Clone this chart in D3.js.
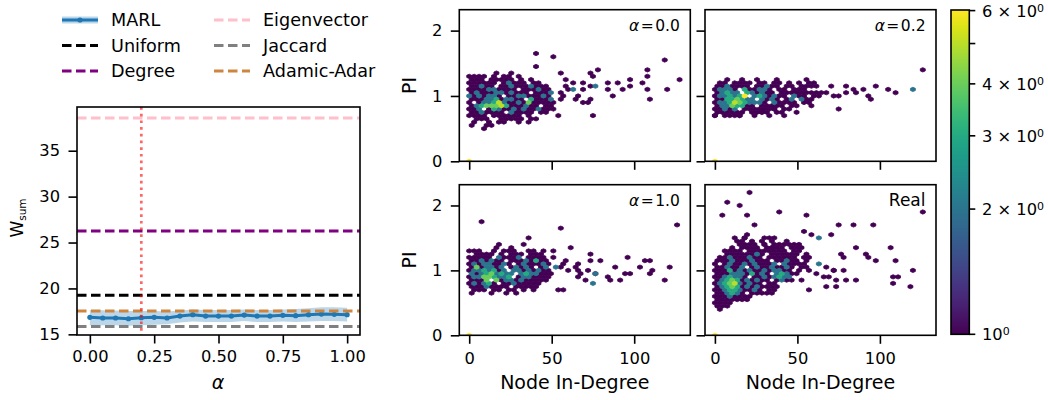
<!DOCTYPE html>
<html>
<head>
<meta charset="utf-8">
<script src="https://cdn.jsdelivr.net/npm/d3@7"></script>
<style>
  body { margin: 0; background: #fff; }
  text { font-family: "DejaVu Sans", sans-serif; }
</style>
</head>
<body>
<svg id="chart" width="1048" height="400"></svg>
<script>
// ---- left plot data ----
const alphaValues = [0, 0.05, 0.1, 0.15, 0.2, 0.25, 0.3, 0.35, 0.4, 0.45, 0.5, 0.55, 0.6, 0.65, 0.7, 0.75, 0.8, 0.85, 0.9, 0.95, 1.0];
const marlMean = [16.85, 16.78, 16.78, 16.70, 16.81, 16.85, 16.78, 16.99, 17.14, 16.99, 16.99, 16.99, 17.10, 16.99, 16.99, 17.07, 17.03, 17.14, 17.21, 17.18, 17.14];
const marlUpper = [17.65, 17.62, 17.6, 17.55, 17.55, 17.55, 17.5, 17.6, 17.7, 17.65, 17.65, 17.65, 17.7, 17.65, 17.65, 17.7, 17.75, 17.85, 17.95, 17.95, 17.9];
const marlLower = [16.0, 16.0, 16.0, 15.95, 16.0, 16.05, 16.1, 16.3, 16.4, 16.35, 16.35, 16.35, 16.45, 16.35, 16.35, 16.4, 16.35, 16.4, 16.45, 16.45, 16.4];
const baselineNames = ['Uniform', 'Degree', 'Eigenvector', 'Jaccard', 'Adamic-Adar'];
const baselineValues = [19.25, 26.25, 38.55, 15.85, 17.55];
const chosenAlpha = 0.2;
const leftXTicks = [0, 0.25, 0.5, 0.75, 1.0];
const leftYTicks = [15, 20, 25, 30, 35];

// ---- hexbin panels (rows of counts on the hex lattice, top row first) ----
const panelTitles = ['α=0.0', 'α=0.2', 'α=1.0', 'Real'];
const coreTopRow = [27, 25, 26, 31];
const p1Core = [
  ".....1..1",
  "1111.1.11.1",
  "111.11111.1.1",
  "111111.12111.11",
  "11211.1121112111",
  "1111221111.111211",
  "121112212111.1112",
  "2121221.112211121",
  "11122312211.31112",
  "1.122352112141111",
  "12344453111211.11",
  "112.1321121211211",
  "1121111.21111.11",
  "1111.111111.1",
  ".111..11111.11",
  ".1..1.11..1.1",
  "1..11",
  "...1"
];
const p2Core = [
  "..1..1..1...1",
  ".11.1111.11.11.1.1.1",
  "1121111.11211.11.111",
  "12221.311221.11.111",
  "12322.321211.1111111",
  "1223236.2321211.211.1",
  "11334322.2121.12.211",
  "12235432221.21111.11",
  "12243311.11111.11",
  "11212.1111111.1",
  "111111.1111.11..1",
  "1.1.11..1..1..1"
];
const p3Core = [
  "1.1..1.111..1",
  ".1111.1.111.111",
  "11111.21112.1111",
  "1121211.11121311",
  "121221121.1211121",
  "1412212.12121.12.21",
  "12232312.22121211",
  "212342322.2322111",
  "122443223.1221111",
  "1114.41221211111",
  "121231.11211111",
  "11121111.11111",
  ".111.11.11.1.1",
  "1...1..1.1"
];
const p4Core = [
  "......1",
  "....1.1...1.1",
  ".....1.1.1.1..1",
  ".....1111.1.11.1.1",
  "...1.1111.1111.111",
  "..1111.11111111.11",
  "..11111121.111111.1",
  ".112111211.111111.11",
  "11121112111.11211.1",
  "1.12112121112.21111",
  "112112.121121121.11",
  "1113121211212211.1",
  "11122213121.23211",
  "1123221.11212322",
  "12343121211.1211",
  "1234521211.11",
  "1234312121111",
  "1123321121.11",
  "112321.11111",
  "11121111",
  "1111111",
  "1111",
  "111",
  ".1"
];
// scattered bins: [in-degree, PI, count(default 1)]
const p1Sparse = [
  [0, 0, 6],
  [40.8, 1.65], [40.8, 1.47], [49.9, 1.62], [55, 1.36], [74, 1.36], [79, 1.39], [75.8, 1.28],
  [119, 1.56], [126, 1.24], [121, 1.10], [107, 1.39], [108.5, 1.31], [104, 1.19], [106.5, 1.08], [108.5, 0.95],
  [96, 1.24], [91, 1.22], [97, 1.16], [93, 1.10], [83, 1.22], [83.6, 1.10], [85.6, 0.98],
  [73, 1.13], [77, 1.13, 2], [68, 1.22], [69, 1.10], [67, 1.02], [72, 0.94], [71, 0.89], [68, 0.91], [73.5, 0.69],
  [59, 1.24], [62, 1.22], [57, 1.16], [60, 1.09], [63.7, 1.10, 2], [58, 0.99], [63, 0.94], [52.5, 0.72],
  [54, 1.05], [52, 0.88], [56, 0.95], [50, 0.78]
];
const p2Sparse = [
  [0, 0, 6],
  [127, 1.40], [120.6, 1.08, 2], [108, 1.05], [105.5, 1.12], [97, 1.13], [92, 0.99], [95.5, 0.97], [89.5, 1.09],
  [85, 1.04], [84.4, 1.12], [79.8, 1.13], [78, 1.06], [73.7, 0.99], [74.7, 0.79], [71.7, 1.13], [72, 1.0],
  [68.7, 1.03], [65.7, 1.04], [64, 0.98], [61.6, 1.05], [54.5, 1.24], [59.6, 1.21], [62, 1.14],
  [1, 0.72], [7.5, 0.70], [15, 0.72], [28, 0.73], [37, 0.79], [59.6, 0.84], [45, 0.8]
];
const p3Sparse = [
  [0, 0, 6],
  [8.1, 1.74], [55, 1.65], [127, 1.68], [35.8, 1.51], [32.7, 1.42], [16.6, 1.42], [2.4, 1.31], [17.6, 1.34], [26.7, 1.37],
  [39.2, 1.31], [43.8, 1.29], [50.9, 1.28], [60, 1.33],
  [74, 1.15], [79, 1.15], [74.7, 1.24], [67, 1.10], [65, 1.0], [68, 0.97], [71, 1.0], [67, 0.9], [70, 0.85],
  [74.5, 0.79, 2], [75, 0.95, 2], [77.5, 0.97],
  [87, 1.06], [84, 0.92], [84, 0.87], [90, 0.85], [94, 0.95], [97, 0.95], [97, 1.21], [105, 1.16], [108, 1.13],
  [104.5, 1.07], [108, 0.97], [110, 1.0], [119.6, 0.87], [121, 1.06],
  [55, 0.72], [58, 0.72], [59, 1.0], [63, 1.04], [56, 1.08], [58, 1.15], [51, 1.18]
];
const p4Sparse = [
  [0, 0, 6],
  [19.8, 2.2], [8.7, 2.06], [14, 1.98], [5, 1.83], [19.8, 1.86], [37.8, 1.91], [23.8, 1.68], [54.5, 1.83], [126, 1.88],
  [53, 1.59], [63.6, 1.51, 2], [75.8, 1.71], [84.4, 1.68], [96.6, 1.68], [106.5, 1.36], [71.7, 1.54], [59.6, 1.54],
  [84.4, 1.36], [90.3, 1.24], [94, 1.21], [97.6, 1.15], [108.5, 1.13], [75, 1.24], [77.4, 1.19],
  [120.6, 1.01], [106.5, 0.92], [109.5, 0.92], [108.5, 0.79], [119.6, 0.76],
  [61.6, 1.11, 2], [67, 1.06], [70.7, 1.01], [73, 1.01], [77, 1.01], [62, 0.97], [64.6, 0.9], [68, 0.9],
  [73.7, 0.85], [78.4, 0.85], [74.7, 0.77], [68.7, 0.77], [84, 0.85], [57.6, 0.69], [51.5, 0.85], [56, 0.99],
  [33, 1.5], [43.4, 1.41], [48.5, 1.41], [18, 1.5], [13, 1.43], [31, 1.38], [34.3, 1.33]
];
const panelXTicks = [0, 50, 100];
const panelYTicks = [0, 1, 2];
const cbarTicks = [1, 2, 3, 4, 5, 6];
const cbarLabels = ['1', '2', '3', '4', '', '6'];

// ---- styles ----
const FS = 16.3;      // tick labels
const FL = 19;        // axis labels
const FLEG = 17.6;    // legend
const lineColors = { Uniform: 'black', Degree: 'purple', Eigenvector: 'pink', Jaccard: 'gray', 'Adamic-Adar': 'peru' };
const marlColor = '#1f77b4';
const hexW = 3, hexH = 0.1;   // hex lattice spacing in data units

const svg = d3.select('#chart');

function styleAxis(g) {
  g.attr('font-family', 'DejaVu Sans').attr('font-size', FS);
  g.select('.domain').remove();
  g.selectAll('.tick line').attr('stroke', '#000').attr('stroke-width', 1.6);
  g.selectAll('.tick text').attr('fill', '#000');
}

// ================= left plot =================
const xA = d3.scaleLinear().domain([-0.05, 1.05]).range([77, 360]);
const yA = d3.scaleLinear().domain([14.93, 39.76]).range([335, 107]);
const left = svg.append('g');

left.append('path')
  .datum(alphaValues)
  .attr('fill', marlColor).attr('fill-opacity', 0.3)
  .attr('d', d3.area().x(d => xA(d)).y0((d, i) => yA(marlLower[i])).y1((d, i) => yA(marlUpper[i])));
left.append('path')
  .datum(alphaValues)
  .attr('fill', 'none').attr('stroke', marlColor).attr('stroke-width', 3)
  .attr('d', d3.line().x(d => xA(d)).y((d, i) => yA(marlMean[i])));
left.selectAll('.marl-pt')
  .data(alphaValues)
  .enter().append('circle')
  .attr('cx', d => xA(d)).attr('cy', (d, i) => yA(marlMean[i]))
  .attr('r', 2.6).attr('fill', marlColor);

left.selectAll('.base')
  .data(baselineNames)
  .enter().append('line')
  .attr('x1', xA.range()[0]).attr('x2', xA.range()[1])
  .attr('y1', (d, i) => yA(baselineValues[i])).attr('y2', (d, i) => yA(baselineValues[i]))
  .attr('stroke', d => lineColors[d]).attr('stroke-width', 3)
  .attr('stroke-dasharray', '9.5,4.5');

left.append('line')
  .attr('x1', xA(chosenAlpha)).attr('x2', xA(chosenAlpha))
  .attr('y1', yA.range()[1]).attr('y2', yA.range()[0])
  .attr('stroke', 'red').attr('stroke-opacity', 0.6).attr('stroke-width', 2.7)
  .attr('stroke-dasharray', '2.7,4');

left.append('g').attr('transform', 'translate(0,335)')
  .call(d3.axisBottom(xA).tickValues(leftXTicks).tickFormat(d3.format('.2f')).tickSize(8.5).tickPadding(6.5).tickSizeOuter(0))
  .call(styleAxis);
left.append('g').attr('transform', 'translate(77,0)')
  .call(d3.axisLeft(yA).tickValues(leftYTicks).tickSize(8.5).tickPadding(8.5).tickSizeOuter(0))
  .call(styleAxis);
left.append('rect')
  .attr('x', 77).attr('y', 107).attr('width', 283).attr('height', 228)
  .attr('fill', 'none').attr('stroke', '#000').attr('stroke-width', 1.6);

left.append('text')
  .attr('x', 218).attr('y', 389).attr('text-anchor', 'middle')
  .attr('font-size', FL).attr('font-style', 'italic').text('α');
const wl = left.append('text')
  .attr('transform', 'translate(22.7,218) rotate(-90)')
  .attr('text-anchor', 'middle').attr('font-size', 17);
wl.append('tspan').text('W');
wl.append('tspan').attr('dy', 3.5).attr('font-size', 10.5).text('sum');

// legend
const legendCols = [['MARL', 'Uniform', 'Degree'], ['Eigenvector', 'Jaccard', 'Adamic-Adar']];
const legendX = [62, 214];
const legendY = [20, 45.5, 71];
legendCols.forEach((col, ci) => {
  col.forEach((name, ri) => {
    const g = left.append('g').attr('transform', `translate(${legendX[ci]},${legendY[ri]})`);
    if (name === 'MARL') {
      g.append('rect').attr('x', 0).attr('y', -3.5).attr('width', 36).attr('height', 7)
        .attr('fill', marlColor).attr('fill-opacity', 0.3);
      g.append('line').attr('x1', 0).attr('x2', 36).attr('stroke', marlColor).attr('stroke-width', 3);
      g.append('circle').attr('cx', 18).attr('r', 2.6).attr('fill', marlColor);
    } else {
      g.append('line').attr('x1', 0).attr('x2', 36)
        .attr('stroke', lineColors[name]).attr('stroke-width', 3).attr('stroke-dasharray', '9.5,4.5');
    }
    g.append('text').attr('x', 49).attr('y', 6.3).attr('font-size', FLEG).text(name);
  });
});

// ================= hexbin panels =================
const color = d3.scaleSequentialLog(d3.interpolateViridis).domain([1, 6.02]);
const panelCols = [459.3, 705];
const panelRows = [[9.7, 161.3], [184.7, 335.3]];
const panelW = 231;
const cores = [p1Core, p2Core, p3Core, p4Core];
const sparses = [p1Sparse, p2Sparse, p3Sparse, p4Sparse];

function binCells(core, top, sparse) {
  const cells = [];
  core.forEach((row, i) => {
    const k = top - i;
    [...row].forEach((ch, c) => {
      if (ch === '.') return;
      cells.push({ x: hexW * c + (k % 2 ? hexW / 2 : 0), y: k * hexH / 2, n: +ch });
    });
  });
  sparse.forEach(([x, y, n]) => {
    const k = Math.round(y / (hexH / 2));
    const off = k % 2 ? hexW / 2 : 0;
    cells.push({ x: Math.round((x - off) / hexW) * hexW + off, y: k * hexH / 2, n: n || 1 });
  });
  return cells.sort((a, b) => a.n - b.n);
}

panelTitles.forEach((title, p) => {
  const col = p % 2, row = Math.floor(p / 2);
  const x0 = panelCols[col], [y0, y1] = panelRows[row];
  const xP = d3.scaleLinear().domain([-6, 134]).range([x0, x0 + panelW]);
  const yP = d3.scaleLinear().domain([0, 2.32]).range([y1, y0]);
  const g = svg.append('g');

  g.append('clipPath').attr('id', 'clip' + p)
    .append('rect').attr('x', x0).attr('y', y0).attr('width', panelW).attr('height', y1 - y0);

  const w = xP(hexW) - xP(0), h = yP(0) - yP(hexH);
  const hex = `M${w / 2},${-h / 6}L${w / 2},${h / 6}L0,${h / 3}L${-w / 2},${h / 6}L${-w / 2},${-h / 6}L0,${-h / 3}Z`;

  g.append('g').attr('clip-path', `url(#clip${p})`)
    .selectAll('path')
    .data(binCells(cores[p], coreTopRow[p], sparses[p]))
    .enter().append('path')
    .attr('transform', d => `translate(${xP(d.x)},${yP(d.y)})`)
    .attr('d', hex)
    .attr('fill', d => color(d.n))
    .attr('stroke', d => color(d.n)).attr('stroke-width', 0.8)
    .attr('stroke-linejoin', 'round');

  g.append('g').attr('transform', `translate(0,${y1})`)
    .call(d3.axisBottom(xP).tickValues(panelXTicks).tickSize(8.5).tickPadding(8.5).tickSizeOuter(0)
      .tickFormat(row === 1 ? d3.format('d') : () => ''))
    .call(styleAxis);
  g.append('g').attr('transform', `translate(${x0},0)`)
    .call(d3.axisLeft(yP).tickValues(panelYTicks).tickSize(8.5).tickPadding(8.5).tickSizeOuter(0)
      .tickFormat(col === 0 ? d3.format('d') : () => ''))
    .call(styleAxis);
  g.append('rect')
    .attr('x', x0).attr('y', y0).attr('width', panelW).attr('height', y1 - y0)
    .attr('fill', 'none').attr('stroke', '#000').attr('stroke-width', 1.6);

  const t = g.append('text').attr('x', x0 + panelW - 10.5).attr('y', y0 + 21)
    .attr('text-anchor', 'end');
  if (title.startsWith('α')) {
    t.attr('font-size', 15.5);
    t.append('tspan').attr('font-style', 'italic').text('α');
    t.append('tspan').attr('dx', 1.5).text('=');
    t.append('tspan').attr('dx', 1.5).text(title.slice(2));
  } else {
    t.attr('font-size', 17).text(title);
  }

  if (col === 0) {
    g.append('text').attr('transform', `translate(416,${(y0 + y1) / 2}) rotate(-90)`)
      .attr('text-anchor', 'middle').attr('font-size', FL).text('PI');
  }
  if (row === 1) {
    g.append('text').attr('x', x0 + panelW / 2).attr('y', 389)
      .attr('text-anchor', 'middle').attr('font-size', FL).text('Node In-Degree');
  }
});

// ================= colorbar =================
const cbX = 951, cbW = 18.3;
const yC = d3.scaleLog().domain([1, 6.02]).range([334.3, 10]);
const grad = svg.append('defs').append('linearGradient').attr('id', 'cbgrad')
  .attr('x1', 0).attr('y1', 1).attr('x2', 0).attr('y2', 0);
d3.range(0, 1.0001, 0.05).forEach(s => {
  grad.append('stop').attr('offset', s).attr('stop-color', d3.interpolateViridis(s));
});
svg.append('rect').attr('x', cbX).attr('y', yC.range()[1]).attr('width', cbW)
  .attr('height', yC.range()[0] - yC.range()[1]).attr('fill', 'url(#cbgrad)')
  .attr('stroke', '#000').attr('stroke-width', 1.6);
const cb = svg.append('g');
cb.selectAll('line').data(cbarTicks).enter().append('line')
  .attr('x1', cbX + cbW).attr('x2', cbX + cbW + 6)
  .attr('y1', d => yC(d)).attr('y2', d => yC(d))
  .attr('stroke', '#000').attr('stroke-width', 1.6);
cbarTicks.forEach((v, i) => {
  if (!cbarLabels[i]) return;
  const t = cb.append('text').attr('x', 982).attr('y', yC(v) + 6).attr('font-size', FS);
  t.append('tspan').text(cbarLabels[i] === '1' ? '10' : `${cbarLabels[i]} × 10`);
  t.append('tspan').attr('dy', -5).attr('font-size', 11).text('0');
});
</script>
</body>
</html>
